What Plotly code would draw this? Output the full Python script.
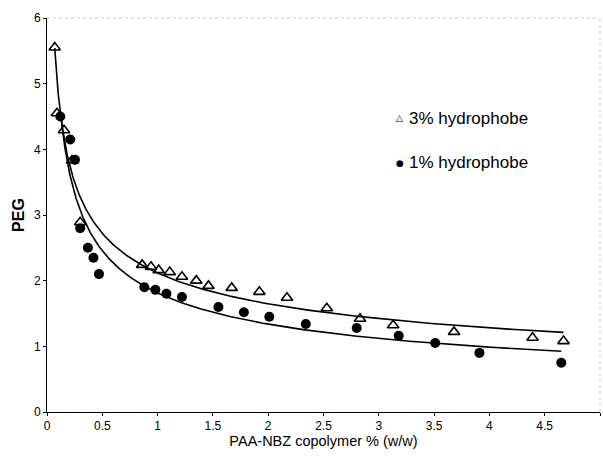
import numpy as np
import plotly.graph_objects as go

# 3% hydrophobe (open triangles)
x3 = [0.07, 0.09, 0.154, 0.226, 0.30, 0.86, 0.94, 1.01, 1.11, 1.22, 1.35, 1.46,
      1.67, 1.92, 2.17, 2.53, 2.83, 3.13, 3.68, 4.39, 4.67]
y3 = [5.55, 4.55, 4.29, 3.83, 2.89, 2.24, 2.21, 2.16, 2.13, 2.06, 2.00, 1.92,
      1.89, 1.83, 1.74, 1.58, 1.42, 1.32, 1.22, 1.13, 1.08]

# 1% hydrophobe (filled circles)
x1 = [0.12, 0.21, 0.253, 0.30, 0.37, 0.42, 0.47, 0.88, 0.98, 1.08, 1.22, 1.55,
      1.78, 2.01, 2.34, 2.80, 3.18, 3.51, 3.91, 4.65]
y1 = [4.50, 4.15, 3.84, 2.80, 2.50, 2.35, 2.10, 1.90, 1.86, 1.80, 1.75, 1.60,
      1.52, 1.45, 1.34, 1.28, 1.16, 1.05, 0.90, 0.75]

names = ["3% hydrophobe", "1% hydrophobe"]
x_ticks = [0, 0.5, 1, 1.5, 2, 2.5, 3, 3.5, 4, 4.5, 5]
x_tick_text = ["0", "0.5", "1", "1.5", "2", "2.5", "3", "3.5", "4", "4.5", "5"]
y_ticks = [0, 1, 2, 3, 4, 5, 6]

FONT = "Arial, 'Liberation Sans', sans-serif"


def power_fit(xs, ys):
    # Power-law trendline (least squares in log-log space)
    b, ln_a = np.polyfit(np.log(xs), np.log(ys), 1)
    xf = np.geomspace(min(xs), max(xs), 300)
    return xf, np.exp(ln_a) * xf ** b


fig = go.Figure()

for xs, ys in [(x3, y3), (x1, y1)]:
    xf, yf = power_fit(xs, ys)
    fig.add_trace(go.Scatter(x=xf, y=yf, mode="lines",
                             line=dict(color="black", width=1.6),
                             showlegend=False, hoverinfo="skip"))

fig.add_trace(go.Scatter(x=x3, y=y3, mode="markers", name=names[0],
                         marker=dict(symbol="triangle-up-open", size=10,
                                     color="black", line=dict(width=1.6, color="black")),
                         showlegend=False))
fig.add_trace(go.Scatter(x=x1, y=y1, mode="markers", name=names[1],
                         marker=dict(symbol="circle", size=10, color="black"),
                         showlegend=False))

# legend drawn as text annotations
legend_items = [("\u25b3", names[0], 0.745), ("\u25cf", names[1], 0.633)]
for sym, label, ypos in legend_items:
    fig.add_annotation(xref="paper", yref="paper", x=0.638, y=ypos,
                       xanchor="center", yanchor="middle", showarrow=False,
                       text=sym, font=dict(family="DejaVu Sans", size=9, color="black"))
    fig.add_annotation(xref="paper", yref="paper", x=0.651, y=ypos,
                       xanchor="left", yanchor="middle", showarrow=False,
                       text=label, font=dict(family=FONT, size=17, color="black"))

# faint dotted frame on top and right
fig.add_shape(type="line", xref="paper", yref="paper", x0=0, x1=1, y0=1, y1=1,
              line=dict(color="#c8c8c8", width=1, dash="dot"))
fig.add_shape(type="line", xref="paper", yref="paper", x0=1, x1=1, y0=0, y1=1,
              line=dict(color="#c8c8c8", width=1, dash="dot"))

fig.update_layout(
    width=603, height=461,
    margin=dict(l=47, r=3, t=18, b=49),
    paper_bgcolor="white", plot_bgcolor="white",
    font=dict(family=FONT, size=12, color="black"),
    showlegend=False,
    xaxis=dict(range=[0, 5], tickvals=x_ticks, ticktext=x_tick_text,
               showgrid=False, zeroline=False, showline=True, linecolor="black",
               linewidth=1, ticks="outside", ticklen=3, tickcolor="black",
               tickfont=dict(size=12),
               title=dict(text="PAA-NBZ copolymer % (w/w)", font=dict(size=14.5), standoff=3)),
    yaxis=dict(range=[0, 6], tickvals=y_ticks,
               showgrid=False, zeroline=False, showline=True, linecolor="black",
               linewidth=1, ticks="outside", ticklen=3, tickcolor="black",
               tickfont=dict(size=12),
               title=dict(text="<b>PEG</b>", font=dict(size=16), standoff=5)),
)

fig.write_html("out.html")
